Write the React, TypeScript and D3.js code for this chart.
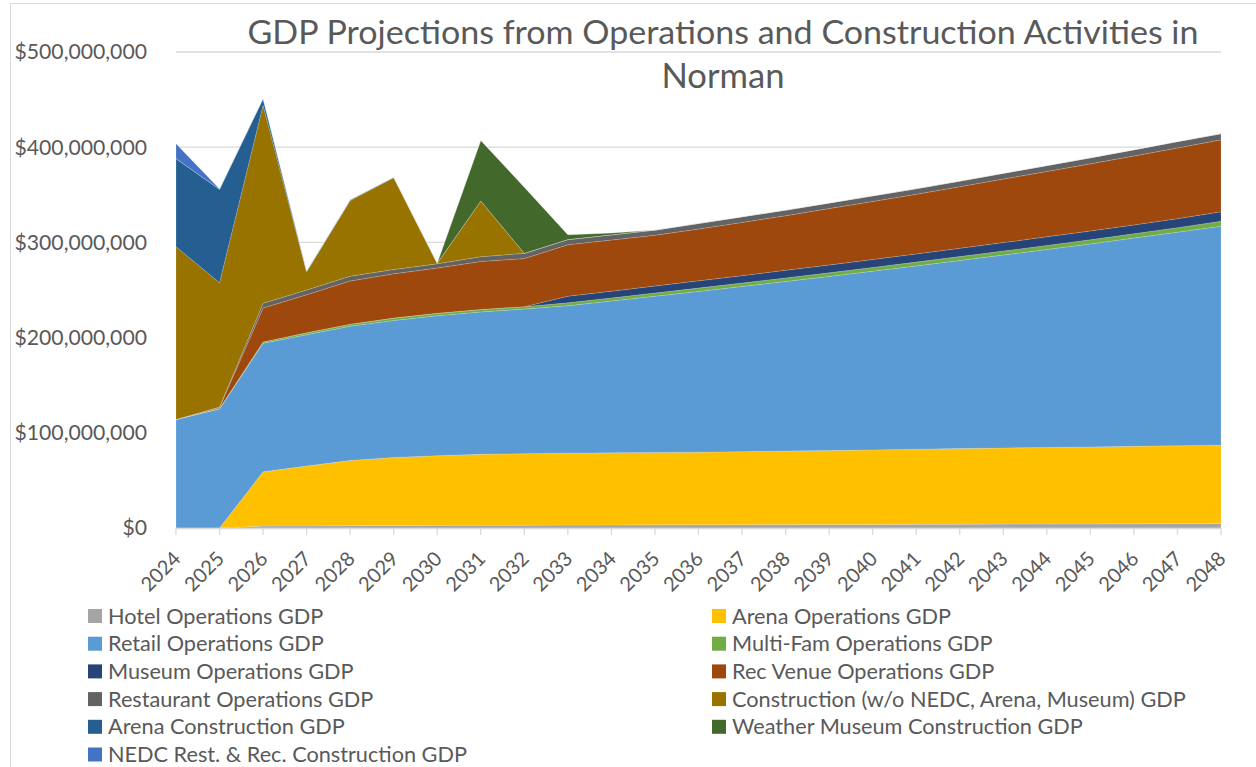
import React from "react";
import * as d3 from "d3";

// Values in millions of dollars
const years = ["2024","2025","2026","2027","2028","2029","2030","2031","2032","2033","2034","2035","2036","2037","2038","2039","2040","2041","2042","2043","2044","2045","2046","2047","2048"];
const hotelOps = [0,0,2.0,2.2,2.4,2.6,2.8,2.9,3.0,3.1,3.2,3.3,3.4,3.5,3.6,3.7,3.8,3.9,4.0,4.1,4.2,4.3,4.4,4.6,4.7];
const arenaOps = [0,0,57,62.8,68.6,71.4,73.2,74.6,75,75.4,75.8,76,76.2,76.7,77.2,77.7,78.2,78.8,79.4,79.9,80.4,80.9,81.4,81.8,82.3];
const retailOps = [114,125,135,138,141,144,147,149.5,152,155,159.5,164.2,168.9,173.5,178.2,182.9,187.8,192.6,197.6,202.7,207.9,213.2,218.7,224.3,230];
const multiFamOps = [0,0.5,1.5,2,2,2.5,2.5,2.5,2.5,3,3.1,3.3,3.5,3.6,3.7,3.8,3.9,4.0,4.1,4.2,4.3,4.4,4.6,4.8,5.2];
const museumOps = [0,0,0,0,0,0,0,0,0,7,7.2,7.4,7.6,7.8,8,8.2,8.3,8.6,8.7,8.9,9.1,9.2,9.3,9.4,10];
const recVenueOps = [0,1,35.5,40,45.5,46.5,47.5,50.5,50.5,54,53.7,53.3,54.4,55.9,57.3,59.2,61,62.6,64.7,66.7,68.6,70.5,72.4,74.3,75.5];
const restaurantOps = [0,0.5,5,5,5,4.5,4.5,5,5.5,5.5,5.5,5.5,6,6,6,6,6,6,6,6.2,6.3,6.5,6.6,6.8,6.6];
const construction = [181.5,130.7,208,19,79.5,96.5,0.5,58.5,0,0,0,0,0,0,0,0,0,0,0,0,0,0,0,0,0];
const arenaConstruction = [92.5,98,7,1,0.7,0.5,0.3,0,0,0,0,0,0,0,0,0,0,0,0,0,0,0,0,0,0];
const weatherMuseumConstruction = [0,0,0,0,0,0,0,63.5,69.5,5,2,0,0,0,0,0,0,0,0,0,0,0,0,0,0];
const nedcConstruction = [15.5,0.5,0,0,0,0,0,0,0,0,0,0,0,0,0,0,0,0,0,0,0,0,0,0,0];

const yTicks = [0, 100, 200, 300, 400, 500];

const seriesNames = [
  "Hotel Operations GDP",
  "Arena Operations GDP",
  "Retail Operations GDP",
  "Multi-Fam Operations GDP",
  "Museum Operations GDP",
  "Rec Venue Operations GDP",
  "Restaurant Operations GDP",
  "Construction (w/o NEDC, Arena, Museum) GDP",
  "Arena Construction GDP",
  "Weather Museum Construction GDP",
  "NEDC Rest. & Rec. Construction GDP",
];
const seriesValues = [hotelOps, arenaOps, retailOps, multiFamOps, museumOps, recVenueOps, restaurantOps, construction, arenaConstruction, weatherMuseumConstruction, nedcConstruction];
const seriesColors = ["#A5A5A5","#FFC000","#5B9BD5","#70AD47","#264478","#9E480E","#636363","#997300","#255E91","#43682B","#4472C4"];

const FONT = "Lato, 'Open Sans', sans-serif";
const TEXT = "#595959";

export default function App() {
  const W = 1256, H = 767;
  const x = d3.scalePoint<string>().domain(years).range([176, 1221]);
  const y = d3.scaleLinear().domain([0, 500]).range([528, 52]);

  const rows = years.map((yr, i) => {
    const r: any = { year: yr };
    seriesNames.forEach((n, k) => { r[n] = seriesValues[k][i]; });
    return r;
  });
  const stacked = d3.stack<any>().keys(seriesNames)(rows);
  const area = d3.area<any>()
    .x((d) => x(d.data.year)!)
    .y0((d) => y(d[0]))
    .y1((d) => y(d[1]));

  const fmt = (v: number) => d3.format("$,")(v * 1e6);

  const legendRowY = (r: number) => 616 + r * 27.7;

  return (
    <svg width={W} height={H} style={{ position: "absolute", left: 0, top: 0, background: "#fff" }} fontFamily={FONT}>
      <rect x={10.5} y={3.5} width={1300} height={800} fill="#fff" stroke="#d9d9d9" strokeWidth={1} />
      {yTicks.map((t) => (
        <g key={t}>
          <line x1={176} x2={1221} y1={y(t)} y2={y(t)} stroke="#d9d9d9" strokeWidth={1.3} />
          <text x={147} y={y(t)} dy="0.35em" textAnchor="end" fontSize={21.2} fill={TEXT}>{fmt(t)}</text>
        </g>
      ))}
      {stacked.map((s, k) => (
        <path key={s.key} d={area(s) || ""} fill={seriesColors[k]} stroke="rgba(255,255,255,0.25)" strokeWidth={0.6} />
      ))}
      <line x1={176} x2={1221} y1={528.5} y2={528.5} stroke="#d9d9d9" strokeWidth={1.5} />
      {years.map((yr) => (
        <g key={yr}>
          <line x1={x(yr)!} x2={x(yr)!} y1={528} y2={535} stroke="#d9d9d9" strokeWidth={1.3} />
          <text transform={`translate(${x(yr)! + 1},${555}) rotate(-45)`} textAnchor="end" dy="0.35em" fontSize={20} fill={TEXT}>{yr}</text>
        </g>
      ))}
      <text x={723} y={44} textAnchor="middle" fontSize={33} fill={TEXT} textLength={951} lengthAdjust="spacingAndGlyphs">GDP Projections from Operations and Construction Activities in</text>
      <text x={723} y={88} textAnchor="middle" fontSize={34} fill={TEXT} textLength={123} lengthAdjust="spacingAndGlyphs">Norman</text>
      {seriesNames.map((n, k) => {
        const col = k % 2, row = Math.floor(k / 2);
        const sx = col === 0 ? 88 : 712;
        const cy = legendRowY(row);
        return (
          <g key={n}>
            <rect x={sx} y={cy - 7} width={14} height={14} fill={seriesColors[k]} />
            <text x={sx + 20} y={cy} dy="0.35em" fontSize={21.7} fill={TEXT}>{n}</text>
          </g>
        );
      })}
    </svg>
  );
}
